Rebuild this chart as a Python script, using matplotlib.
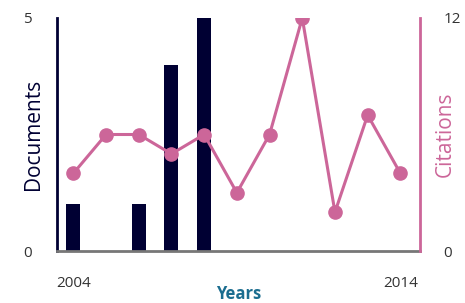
import matplotlib
matplotlib.use("Agg")
import matplotlib.pyplot as plt

years = [2004, 2005, 2006, 2007, 2008, 2009, 2010, 2011, 2012, 2013, 2014]
documents = [1, 0, 1, 4, 5, 0, 0, 0, 0, 0, 0]
citations = [4, 6, 6, 5, 6, 3, 6, 12, 2, 7, 4]
year_labels = ["2004", "2014"]

navy = "#000033"
pink = "#cc6699"
teal = "#1b6d8f"

plt.rcParams['font.family'] = ['Open Sans', 'DejaVu Sans']

fig = plt.figure(figsize=(4.65, 3.03), dpi=100)
ax = fig.add_axes([0.1226, 0.1716, 0.7806, 0.769])
ax2 = ax.twinx()

ax.bar(years, documents, width=0.43, color=navy, zorder=2)
ax2.plot(years, citations, color=pink, lw=2.2, marker='o', ms=9.5, zorder=3)

ax.set_xlim(2003.5, 2014.6)
ax.set_ylim(0, 5)
ax2.set_ylim(0, 12)

ax.set_xticks([years[0], years[-1]])
ax.set_xticklabels(year_labels)
ax.set_yticks([0, 5])
ax2.set_yticks([0, 12])

ax.tick_params(axis='x', length=0, pad=18, labelsize=11, colors='#333333')
ax.tick_params(axis='y', length=0, pad=18, labelsize=11, colors='#333333')
ax2.tick_params(axis='y', length=0, pad=17, labelsize=11, colors='#333333')

for a in (ax, ax2):
    a.spines['top'].set_visible(False)
ax.spines['right'].set_visible(False)
ax2.spines['left'].set_visible(False)
ax2.spines['bottom'].set_visible(False)
ax.spines['left'].set_color(navy)
ax.spines['left'].set_linewidth(2)
ax.spines['bottom'].set_color('#777777')
ax.spines['bottom'].set_linewidth(2)
ax2.spines['right'].set_color(pink)
ax2.spines['right'].set_linewidth(2)

ax.set_ylabel("Documents", color=navy, fontsize=15)
ax2.set_ylabel("Citations", color=pink, fontsize=15, rotation=90)
ax.yaxis.set_label_coords(-0.036, 0.5)
ax2.yaxis.set_label_coords(1.042, 0.5)
ax.set_xlabel("Years", color=teal, fontsize=12, fontweight='bold')
ax.xaxis.set_label_coords(0.5, -0.147)

ax2.set_zorder(ax.get_zorder() + 1)
ax2.patch.set_visible(False)

fig.savefig("out.png", dpi=100)
